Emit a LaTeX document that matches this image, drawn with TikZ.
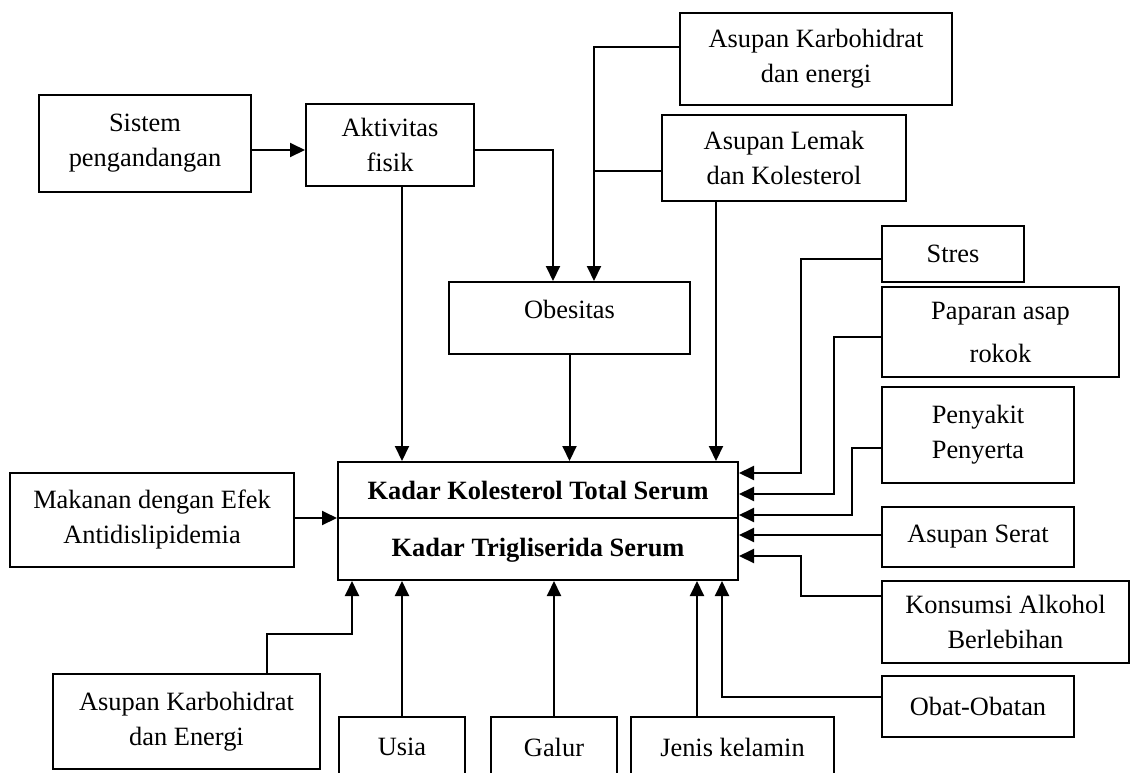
\documentclass[tikz,border=0pt]{standalone}
\usepackage{fontspec}
\setmainfont{Liberation Serif}
\usetikzlibrary{arrows.meta}
\begin{document}
\begin{tikzpicture}[x=0.5pt,y=-0.5pt,
  box/.style={draw, line width=1pt, rectangle, inner sep=0pt, align=center,
    font=\fontsize{13.2}{17.5}\selectfont},
  lbl/.style={inner sep=0pt, align=center, font=\fontsize{13.2}{17.5}\selectfont},
  conn/.style={line width=1pt},
  arr/.style={conn, -{Triangle[length=7.5pt,width=7pt]}}]
\useasboundingbox (0,0) rectangle (1130,772);
\clip (0,0) rectangle (1130,772);
\fill[white] (0,0) rectangle (1130,772);

% boxes
\node[box, minimum width=106pt, minimum height=48.5pt] (sistem) at (145,143.5) {Sistem\\pengandangan};
\node[box, minimum width=84pt, minimum height=41pt] (aktiv) at (390,145) {Aktivitas\\fisik};
\node[box, minimum width=136pt, minimum height=46pt] (karboA) at (816,59) {Asupan Karbohidrat\\dan energi};
\node[box, minimum width=122pt, minimum height=43pt] (lemak) at (784,158) {Asupan Lemak\\dan Kolesterol};
\node[box, minimum width=120.5pt, minimum height=36pt] (obes) at (569.5,318) {};
\node[lbl] (obestxt) at (569.5,309) {Obesitas};
\node[box, minimum width=71pt, minimum height=28pt] (stres) at (953,254) {Stres};
\node[box, minimum width=118.5pt, minimum height=45pt] (papar) at (1000.5,332) {Paparan asap\\[4pt]rokok};
\node[box, minimum width=96pt, minimum height=48pt] (penyakit) at (978,435) {Penyakit\\Penyerta};
\node[box, minimum width=96pt, minimum height=30pt] (serat) at (978,537) {Asupan Serat};
\node[box, minimum width=123.5pt, minimum height=41pt] (alkohol) at (1005.5,622) {Konsumsi Alkohol\\Berlebihan};
\node[box, minimum width=96pt, minimum height=30.5pt] (obat) at (978,706.5) {Obat-Obatan};
\node[box, minimum width=142pt, minimum height=47pt] (makanan) at (152,520) {Makanan dengan Efek\\Antidislipidemia};
\node[box, minimum width=133.5pt, minimum height=47.5pt] (karboB) at (186.5,721.5) {Asupan Karbohidrat\\dan Energi};
\node[box, minimum width=63pt, minimum height=30pt] (usia) at (402,747) {Usia};
\node[box, minimum width=63pt, minimum height=30pt] (galur) at (554,747) {Galur};
\node[box, minimum width=101.5pt, minimum height=30pt] (jenis) at (732.5,747) {Jenis kelamin};

\node[box, minimum width=200pt, minimum height=59pt] (kadar) at (538,521) {};
\draw[conn] (kadar.west |- 0,518) -- (kadar.east |- 0,518);
\node[lbl, font=\fontsize{13.2}{17.5}\selectfont\bfseries] (kol) at (538,490) {Kadar Kolesterol Total Serum};
\node[lbl, font=\fontsize{13.2}{17.5}\selectfont\bfseries] (tri) at (538,550) {Kadar Trigliserida Serum};

% connectors
\draw[arr] (sistem.east |- 0,150) -- (aktiv.west |- 0,150);
\draw[arr] (aktiv.east |- 0,150) -| (obes.north -| 553,0);
\draw[arr] (karboA.west |- 0,47) -| (obes.north -| 594,0);
\draw[conn] (lemak.west |- 0,171) -- (594,171);
\draw[arr] (aktiv.south -| 402,0) -- (kadar.north -| 402,0);
\draw[arr] (obes.south) -- (kadar.north -| obes.south);
\draw[arr] (lemak.south -| 716,0) -- (kadar.north -| 716,0);

\draw[arr] (stres.west |- 0,259) -| (801,473) -- (kadar.east |- 0,473);
\draw[arr] (papar.west |- 0,337) -| (834,494) -- (kadar.east |- 0,494);
\draw[arr] (penyakit.west |- 0,448) -| (852,515) -- (kadar.east |- 0,515);
\draw[arr] (serat.west |- 0,535) -- (kadar.east |- 0,535);
\draw[arr] (alkohol.west |- 0,596) -| (801,556) -- (kadar.east |- 0,556);
\draw[arr] (obat.west |- 0,697) -| (kadar.south -| 722,0);

\draw[arr] (makanan.east |- 0,518) -- (kadar.west |- 0,518);
\draw[arr] (karboB.north -| 267,0) |- (352,634) -- (kadar.south -| 352,0);
\draw[arr] (usia.north) -- (kadar.south -| usia.north);
\draw[arr] (galur.north) -- (kadar.south -| galur.north);
\draw[arr] (jenis.north -| 697,0) -- (kadar.south -| 697,0);
\end{tikzpicture}
\end{document}
